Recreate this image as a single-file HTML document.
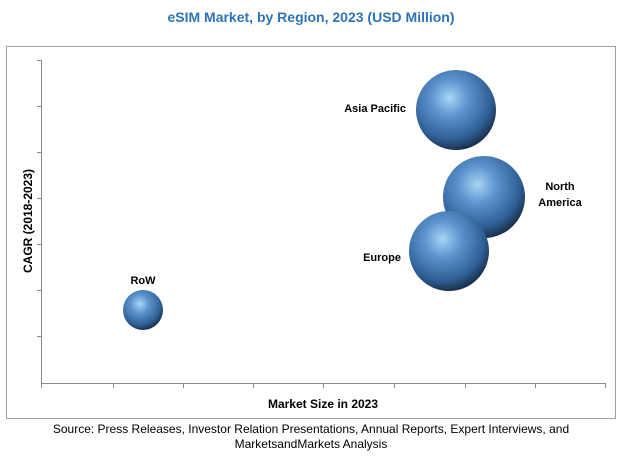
<!DOCTYPE html>
<html><head><style>
body{margin:0;width:622px;height:462px;background:#fff;overflow:hidden;font-family:"Liberation Sans",sans-serif;}
</style></head><body>
<svg width="622" height="462" xmlns="http://www.w3.org/2000/svg">
<defs>
<radialGradient id="g" cx="0.42" cy="0.35" r="0.65">
<stop offset="0" stop-color="#a9d4f5"/>
<stop offset="0.35" stop-color="#5d95cf"/>
<stop offset="0.8" stop-color="#2e5f95"/>
<stop offset="1" stop-color="#1c3350"/>
</radialGradient>
</defs>
<text x="311" y="22" text-anchor="middle" font-family="Liberation Sans" font-weight="bold" font-size="14" fill="#2e74b5">eSIM Market, by Region, 2023 (USD Million)</text>
<rect x="6.5" y="46.5" width="609" height="372" fill="none" stroke="#a0a0a0"/>
<g stroke="#888" stroke-width="1">
<line x1="41.5" y1="60" x2="41.5" y2="383"/>
<line x1="41" y1="383.5" x2="605" y2="383.5"/>
<line x1="37" y1="60.5" x2="41" y2="60.5"/>
<line x1="37" y1="106.5" x2="41" y2="106.5"/>
<line x1="37" y1="152.5" x2="41" y2="152.5"/>
<line x1="37" y1="198.5" x2="41" y2="198.5"/>
<line x1="37" y1="244.5" x2="41" y2="244.5"/>
<line x1="37" y1="290.5" x2="41" y2="290.5"/>
<line x1="37" y1="336.5" x2="41" y2="336.5"/>
<line x1="41.5" y1="383" x2="41.5" y2="388"/>
<line x1="113.5" y1="383" x2="113.5" y2="388"/>
<line x1="183.5" y1="383" x2="183.5" y2="388"/>
<line x1="253.5" y1="383" x2="253.5" y2="388"/>
<line x1="323.5" y1="383" x2="323.5" y2="388"/>
<line x1="394.5" y1="383" x2="394.5" y2="388"/>
<line x1="465.5" y1="383" x2="465.5" y2="388"/>
<line x1="535.5" y1="383" x2="535.5" y2="388"/>
<line x1="605.5" y1="383" x2="605.5" y2="388"/>
</g>
<ellipse cx="456" cy="110" rx="40" ry="40" fill="url(#g)"/>
<ellipse cx="484" cy="197" rx="41" ry="41" fill="url(#g)"/>
<ellipse cx="449" cy="251" rx="40" ry="40" fill="url(#g)"/>
<ellipse cx="143" cy="310" rx="20" ry="20" fill="url(#g)"/>
<g font-family="Liberation Sans" font-weight="bold" font-size="11" fill="#000">
<text x="406" y="112" text-anchor="end">Asia Pacific</text>
<text x="560" y="190" text-anchor="middle">North</text>
<text x="560" y="206" text-anchor="middle">America</text>
<text x="401" y="261" text-anchor="end">Europe</text>
<text x="143" y="284" text-anchor="middle">RoW</text>
<text x="323" y="408" text-anchor="middle" font-size="12">Market Size in 2023</text>
<text transform="translate(32,221) rotate(-90)" text-anchor="middle" font-size="12">CAGR (2018-2023)</text>
</g>
<g font-family="Liberation Sans" font-size="12" fill="#000" text-anchor="middle">
<text x="311" y="433">Source: Press Releases, Investor Relation Presentations, Annual Reports, Expert Interviews, and</text>
<text x="311" y="448">MarketsandMarkets Analysis</text>
</g>
</svg>
</body></html>
